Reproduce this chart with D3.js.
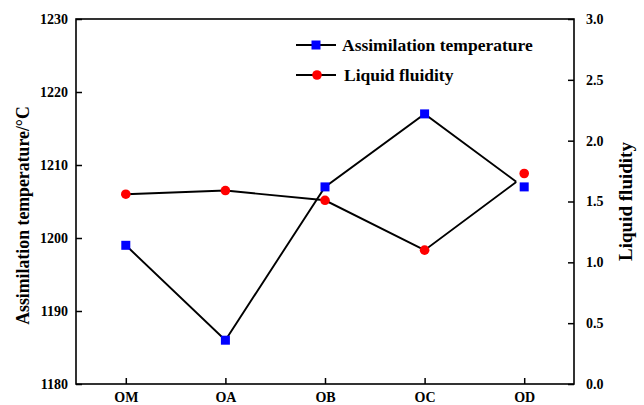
<!DOCTYPE html>
<html>
<head>
<meta charset="utf-8">
<script src="https://cdn.jsdelivr.net/npm/d3@7"></script>
<style>
  body { margin: 0; background: #fff; }
</style>
</head>
<body>
<svg id="chart" width="644" height="405"></svg>
<script>
'use strict';

// categories along the bottom
var categories = ['OM', 'OA', 'OB', 'OC', 'OD'];

// marker values
var temperature = [1199, 1186, 1207, 1217, 1207];
var fluidity = [1.56, 1.59, 1.51, 1.10, 1.73];

// the lines meet slightly left of the OD markers (markers were nudged apart in the original)
var tempLine = [[0, 1199], [1, 1186], [2, 1207], [3, 1217], [3.92, 1207.7]];
var fluidLine = [[0, 1.56], [1, 1.59], [2, 1.51], [3, 1.10], [3.92, 1.66]];

var leftTicks = [1180, 1190, 1200, 1210, 1220, 1230];
var rightTicks = [0, 0.5, 1.0, 1.5, 2.0, 2.5, 3.0];

var FONT = '"Liberation Serif", "Times New Roman", serif';

var svg = d3.select('#chart');
var m = {left: 76, right: 574, top: 19, bottom: 384};

var x = d3.scaleLinear().domain([-0.5, categories.length - 0.5]).range([m.left, m.right]);
var yL = d3.scaleLinear().domain([1180, 1230]).range([m.bottom, m.top]);
var yR = d3.scaleLinear().domain([0, 3]).range([m.bottom, m.top]);

//frame
svg.append('rect')
    .attr('x', m.left).attr('y', m.top)
    .attr('width', m.right - m.left).attr('height', m.bottom - m.top)
    .attr('fill', 'none').attr('stroke', '#000').attr('stroke-width', 1.6);

//left axis: major + minor ticks pointing inward
var gl = svg.append('g').attr('transform', 'translate(' + m.left + ',0)');
gl.call(d3.axisLeft(yL).tickValues(d3.range(1185, 1230, 10)).tickSize(-4).tickFormat(''));
gl.call(d3.axisLeft(yL).tickValues(leftTicks).tickSize(-6).tickPadding(8).tickFormat(d3.format('d')));

var gr = svg.append('g').attr('transform', 'translate(' + m.right + ',0)');
gr.call(d3.axisRight(yR).tickValues(d3.range(0.25, 3, 0.5)).tickSize(-4).tickFormat(''));
gr.call(d3.axisRight(yR).tickValues(rightTicks).tickSize(-6).tickPadding(12).tickFormat(d3.format('.1f')));

var gb = svg.append('g').attr('transform', 'translate(0,' + m.bottom + ')');
gb.call(d3.axisBottom(x).tickValues(d3.range(categories.length)).tickSize(-6).tickPadding(8)
    .tickFormat(function (i) { return categories[i]; }));

svg.selectAll('g').attr('font-family', null);
svg.selectAll('.domain').remove();
svg.selectAll('.tick line').attr('stroke', '#000').attr('stroke-width', 1.5);
svg.selectAll('.tick text')
    .style('font-family', FONT).style('font-weight', 'bold')
    .style('font-size', '14px').attr('fill', '#000');

//axis titles
svg.append('text')
    .attr('transform', 'translate(29,' + ((m.top + m.bottom) / 2 + 14) + ') rotate(-90)')
    .attr('text-anchor', 'middle')
    .style('font-family', FONT).style('font-weight', 'bold')
    .style('font-size', '17.8px')
    .text('Assimilation temperature/\u00B0C');
svg.append('text')
    .attr('transform', 'translate(632,' + ((m.top + m.bottom) / 2) + ') rotate(-90)')
    .attr('text-anchor', 'middle')
    .style('font-family', FONT).style('font-weight', 'bold')
    .style('font-size', '19px')
    .text('Liquid fluidity');

//lines
var line = d3.line();
svg.append('path')
    .attr('d', line(tempLine.map(function (d) { return [x(d[0]), yL(d[1])]; })))
    .attr('fill', 'none').attr('stroke', '#000').attr('stroke-width', 1.9);
svg.append('path')
    .attr('d', line(fluidLine.map(function (d) { return [x(d[0]), yR(d[1])]; })))
    .attr('fill', 'none').attr('stroke', '#000').attr('stroke-width', 1.9);

//markers
svg.selectAll('.sq').data(temperature).enter().append('rect')
    .attr('x', function (d, i) { return x(i) - 4.5; })
    .attr('y', function (d) { return yL(d) - 4.5; })
    .attr('width', 9).attr('height', 9)
    .attr('fill', '#0000ff');
svg.selectAll('.ci').data(fluidity).enter().append('circle')
    .attr('cx', function (d, i) { return x(i); })
    .attr('cy', function (d) { return yR(d); })
    .attr('r', 4.8)
    .attr('fill', '#ff0000');

//legend
var legend = [
    {label: 'Assimilation temperature', shape: 'square', y: 45},
    {label: 'Liquid fluidity', shape: 'circle', y: 75}
];
var lg = svg.selectAll('.legend').data(legend).enter().append('g')
    .attr('transform', function (d) { return 'translate(296,' + d.y + ')'; });
lg.append('line').attr('x1', 0).attr('x2', 40).attr('stroke', '#000').attr('stroke-width', 1.9);
lg.filter(function (d) { return d.shape === 'square'; }).append('rect')
    .attr('x', 15.5).attr('y', -4.5).attr('width', 9).attr('height', 9).attr('fill', '#0000ff');
lg.filter(function (d) { return d.shape === 'circle'; }).append('circle')
    .attr('cx', 21).attr('r', 4.8).attr('fill', '#ff0000');
lg.append('text')
    .attr('x', function (d) { return d.shape === 'square' ? 46 : 48; })
    .attr('y', 6)
    .style('font-family', FONT).style('font-weight', 'bold')
    .style('font-size', '17.5px')
    .text(function (d) { return d.label; });
</script>
</body>
</html>
